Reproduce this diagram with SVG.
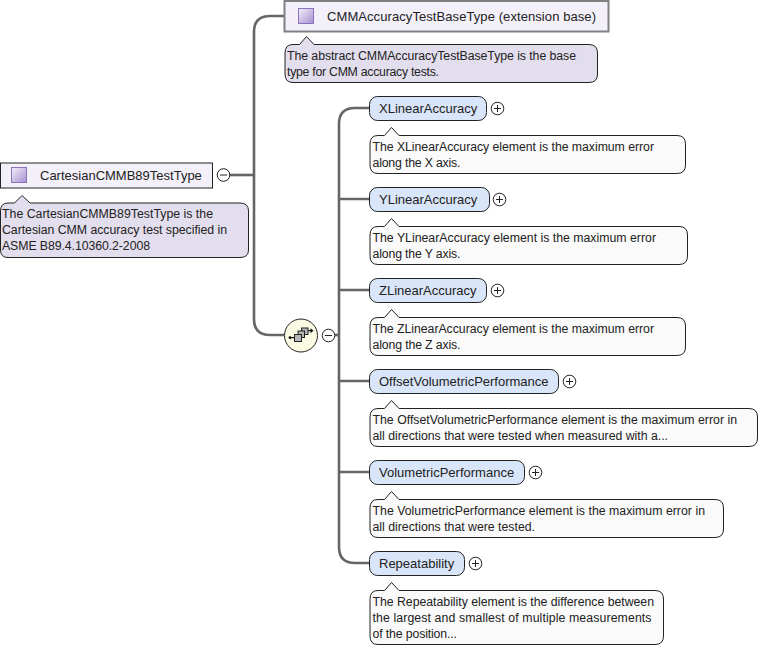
<svg xmlns="http://www.w3.org/2000/svg" width="765" height="648" viewBox="0 0 765 648">
<defs>
<linearGradient id="sw" x1="0" y1="0" x2="1" y2="1"><stop offset="0" stop-color="#f4f0fa"/><stop offset="1" stop-color="#a58fd0"/></linearGradient>
<g id="plus"><circle r="6.3" fill="#fff" stroke="#222" stroke-width="1"/><path d="M-3.5 0H3.5M0 -3.5V3.5" stroke="#222" stroke-width="1" fill="none"/></g>
<g id="minus"><circle r="6.3" fill="#fff" stroke="#222" stroke-width="1"/><path d="M-3.5 0H3.5" stroke="#222" stroke-width="1" fill="none"/></g>
</defs>
<style>
text{font-family:"Liberation Sans",Arial,sans-serif;fill:#222}
.n{font-size:13px}
.d{font-size:12.3px}
.note{fill:#fafafa;stroke:#222;stroke-width:1}
.tnote{fill:#e3deed;stroke:#222;stroke-width:1}
.el{fill:#d9e5f8;stroke:#222;stroke-width:1}
.sw{fill:url(#sw);stroke:#8b72bd;stroke-width:1}
.c{fill:none;stroke:#666;stroke-width:2.6}
</style>
<rect width="765" height="648" fill="#fff"/>
<g id="connectors">
<path class="c" d="M230 175H254"/>
<path class="c" d="M284 16H270Q254 16 254 32V319Q254 335 270 335H284"/>
<path class="c" d="M335 335H339"/>
<path class="c" d="M369 108H355Q339 108 339 124V547Q339 563 355 563H369"/>
<path class="c" d="M339 199H369M339 290H369M339 381H369M339 472H369"/>
</g>
<g id="CartesianCMMB89TestType">
<rect x="0.500" y="163" width="212" height="25" fill="#f3f0f9" stroke="#222" stroke-width="1"/>
<rect class="sw" x="11.500" y="167.500" width="15" height="15"/>
<text class="n" x="40" y="180">CartesianCMMB89TestType</text>
<use href="#minus" x="223.500" y="175"/>
<path class="tnote" d="M8 203H14.500L22 195.500L30 203H240Q248.500 203 248.500 211V250Q248.500 257.500 240 257.500H8Q0.500 257.500 0.500 250V211Q0.500 203 8 203Z"/>
<text class="d" x="2" y="218" textLength="211">The CartesianCMMB89TestType is the</text>
<text class="d" x="2" y="234" textLength="225">Cartesian CMM accuracy test specified in</text>
<text class="d" x="2" y="250" textLength="148">ASME B89.4.10360.2-2008</text>
</g>
<g id="CMMAccuracyTestBaseType">
<rect x="284.500" y="1" width="324" height="30.500" fill="#f3f0f9" stroke="#808080" stroke-width="2"/>
<rect class="sw" x="298.500" y="8.500" width="15" height="15"/>
<text class="n" x="327" y="21" textLength="269">CMMAccuracyTestBaseType (extension base)</text>
<path class="tnote" d="M293 44.500H299.500L306.500 36.500L314 44.500H589Q597.500 44.500 597.500 53V74Q597.500 82.500 589 82.500H293Q285 82.500 285 74V53Q285 44.500 293 44.500Z"/>
<text class="d" x="287" y="60" textLength="289">The abstract CMMAccuracyTestBaseType is the base</text>
<text class="d" x="287" y="76" textLength="152">type for CMM accuracy tests.</text>
</g>
<g id="sequence">
<circle cx="301" cy="335.500" r="16.500" fill="#fbfbe3" stroke="#222" stroke-width="1"/>
<path d="M290 337.700H295M307 330.700H312" stroke="#111" stroke-width="1.200" fill="none"/>
<circle cx="290" cy="337.700" r="1.400" fill="#111"/><path d="M310.500 328.200L313.500 330.700L310.500 333.200Z" fill="#111"/>
<g fill="#b5b5b5" stroke="#222" stroke-width="1"><rect x="301.500" y="328" width="6.500" height="6.500"/><rect x="298" y="331" width="6.500" height="6.500"/><rect x="294.500" y="334.500" width="7" height="7"/></g>
<use href="#minus" x="328.500" y="335.500"/>
</g>
<g id="XLinearAccuracy">
<rect class="el" x="369.500" y="96.500" width="117" height="24" rx="8"/>
<text class="n" x="379" y="113">XLinearAccuracy</text>
<use href="#plus" x="497.500" y="108.500"/>
<path class="note" d="M378 135.500H384.500L391.500 127.500L399 135.500H677Q685.500 135.500 685.500 144V165Q685.500 173.500 677 173.500H378Q370 173.500 370 165V144Q370 135.500 378 135.500Z"/>
<text class="d" x="372.500" y="151" textLength="281.500">The XLinearAccuracy element is the maximum error</text>
<text class="d" x="372.500" y="167" textLength="88">along the X axis.</text>
</g>
<g id="YLinearAccuracy">
<rect class="el" x="369.500" y="187.500" width="120" height="24" rx="8"/>
<text class="n" x="379" y="204">YLinearAccuracy</text>
<use href="#plus" x="499.500" y="199.500"/>
<path class="note" d="M378 226.500H384.500L391.500 218.500L399 226.500H679Q687.500 226.500 687.500 235V256Q687.500 264.500 679 264.500H378Q370 264.500 370 256V235Q370 226.500 378 226.500Z"/>
<text class="d" x="372.500" y="242" textLength="283.500">The YLinearAccuracy element is the maximum error</text>
<text class="d" x="372.500" y="258" textLength="88">along the Y axis.</text>
</g>
<g id="ZLinearAccuracy">
<rect class="el" x="369.500" y="278.500" width="117" height="24" rx="8"/>
<text class="n" x="379" y="295">ZLinearAccuracy</text>
<use href="#plus" x="497.500" y="290.500"/>
<path class="note" d="M378 317.500H384.500L391.500 309.500L399 317.500H677Q685.500 317.500 685.500 326V347Q685.500 355.500 677 355.500H378Q370 355.500 370 347V326Q370 317.500 378 317.500Z"/>
<text class="d" x="372.500" y="333" textLength="281.500">The ZLinearAccuracy element is the maximum error</text>
<text class="d" x="372.500" y="349" textLength="88">along the Z axis.</text>
</g>
<g id="OffsetVolumetricPerformance">
<rect class="el" x="369.500" y="369.500" width="189" height="24" rx="8"/>
<text class="n" x="379" y="386">OffsetVolumetricPerformance</text>
<use href="#plus" x="569.500" y="381.500"/>
<path class="note" d="M378 408.500H384.500L391.500 400.500L399 408.500H749Q757.500 408.500 757.500 417V438Q757.500 446.500 749 446.500H378Q370 446.500 370 438V417Q370 408.500 378 408.500Z"/>
<text class="d" x="372.500" y="424" textLength="364.500">The OffsetVolumetricPerformance element is the maximum error in</text>
<text class="d" x="372.500" y="440" textLength="295.500">all directions that were tested when measured with a...</text>
</g>
<g id="VolumetricPerformance">
<rect class="el" x="369.500" y="460.500" width="155" height="24" rx="8"/>
<text class="n" x="379" y="477">VolumetricPerformance</text>
<use href="#plus" x="535.500" y="472.500"/>
<path class="note" d="M378 499.500H384.500L391.500 491.500L399 499.500H715Q723.500 499.500 723.500 508V529Q723.500 537.500 715 537.500H378Q370 537.500 370 529V508Q370 499.500 378 499.500Z"/>
<text class="d" x="372.500" y="515" textLength="332.500">The VolumetricPerformance element is the maximum error in</text>
<text class="d" x="372.500" y="531" textLength="162.500">all directions that were tested.</text>
</g>
<g id="Repeatability">
<rect class="el" x="369.500" y="551.500" width="95" height="24" rx="8"/>
<text class="n" x="379" y="568">Repeatability</text>
<use href="#plus" x="475.500" y="563.500"/>
<path class="note" d="M378 590.500H384.500L391.500 582.500L399 590.500H655Q663.500 590.500 663.500 599V636Q663.500 644.500 655 644.500H378Q370 644.500 370 636V599Q370 590.500 378 590.500Z"/>
<text class="d" x="372.500" y="606" textLength="281.500">The Repeatability element is the difference between</text>
<text class="d" x="372.500" y="622" textLength="279">the largest and smallest of multiple measurements</text>
<text class="d" x="372.500" y="638" textLength="84.500">of the position...</text>
</g>
</svg>
